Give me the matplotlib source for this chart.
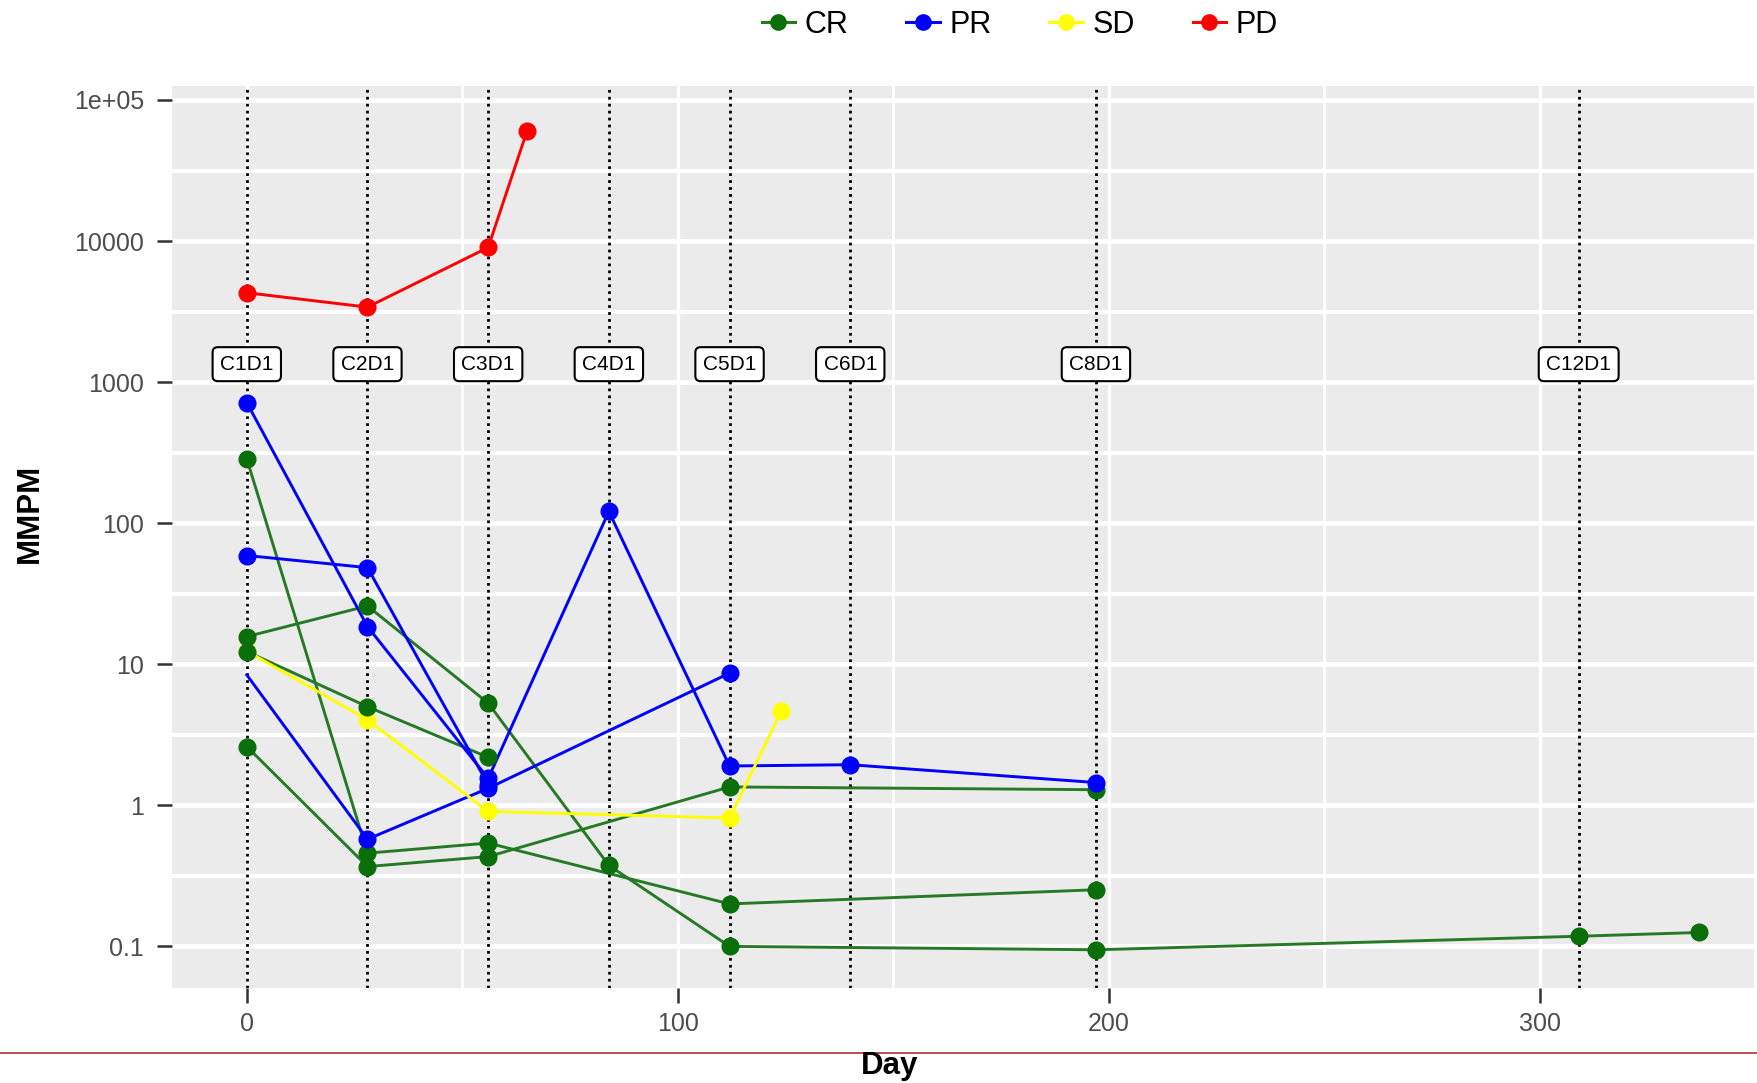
import matplotlib
matplotlib.use("Agg")
import matplotlib.pyplot as plt
from matplotlib.lines import Line2D

plt.rcParams['font.family'] = ['Liberation Sans', 'DejaVu Sans']

# treatment cycle start days and labels
cycle_days = [0, 28, 56, 84, 112, 140, 197, 309]
cycle_labels = ['C1D1', 'C2D1', 'C3D1', 'C4D1', 'C5D1', 'C6D1', 'C8D1', 'C12D1']
label_y = 1340

# CR patients
cr1_day = [0, 28, 56, 84, 112, 197, 309, 337]
cr1 = [15.7, 25.9, 5.3, 0.375, 0.100, 0.0946, 0.118, 0.1255]
cr2_day = [0, 28, 56]
cr2 = [12.3, 5.0, 2.19]
cr3_day = [0, 28, 56, 112, 197]
cr3 = [286, 0.458, 0.54, 0.200, 0.252]
cr4_day = [0, 28, 56, 112, 197]
cr4 = [2.61, 0.368, 0.433, 1.35, 1.29]

# PR patients
pr1_day = [0, 28, 56, 84, 112, 140, 197]
pr1 = [716, 18.5, 1.55, 121, 1.90, 1.94, 1.45]
pr2_day = [0, 28, 56]
pr2 = [59, 48.4, 1.40]
pr3_day = [0, 28, 56, 112]
pr3 = [8.4, 0.575, 1.32, 8.65]

# SD patient
sd_day = [0, 28, 56, 112, 124]
sd = [12.4, 4.04, 0.905, 0.813, 4.63]

# PD patient
pd_day = [0, 28, 56, 65]
pd = [4300, 3400, 9000, 60000]

groups = ['CR', 'PR', 'SD', 'PD']
line_col = {'CR': '#267a26', 'PR': '#0000ff', 'SD': '#ffff00', 'PD': '#ff0000'}
pt_col = {'CR': '#0a6e0a', 'PR': '#0000ff', 'SD': '#ffff00', 'PD': '#ff0000'}

series = [
    ('CR', cr1_day, cr1), ('CR', cr2_day, cr2), ('CR', cr3_day, cr3), ('CR', cr4_day, cr4),
    ('PR', pr1_day, pr1), ('PR', pr2_day, pr2), ('PR', pr3_day, pr3),
    ('SD', sd_day, sd),
    ('PD', pd_day, pd),
]
point_order = ['SD', 'CR', 'PR', 'PD']

fig = plt.figure(figsize=(17.58, 10.83), dpi=100)
ax = fig.add_axes([172 / 1758, 1 - 988 / 1083, 1 - 172 / 1758, (988 - 86) / 1083])
ax.set_facecolor('#ebebeb')
ax.set_yscale('log')
ax.set_xlim(-17.35, 350.6)
ax.set_ylim(10 ** -1.295, 10 ** 5.099)

# grid
for v in [-1, 0, 1, 2, 3, 4, 5]:
    ax.axhline(10.0 ** v, color='white', lw=3.4, zorder=0.5)
for v in [-0.5, 0.5, 1.5, 2.5, 3.5, 4.5]:
    ax.axhline(10.0 ** v, color='white', lw=3.0, zorder=0.5)
for v in [0, 100, 200, 300]:
    ax.axvline(v, color='white', lw=2.4, zorder=0.5)
for v in [50, 150, 250, 350]:
    ax.axvline(v, color='white', lw=2.0, zorder=0.5)

# cycle markers
for d, lab in zip(cycle_days, cycle_labels):
    ax.axvline(d, color='black', lw=2.0, ls=(0, (1, 1.5)), zorder=1)
    ax.text(d, label_y, lab, ha='center', va='center', fontsize=15, zorder=6,
            bbox=dict(boxstyle='round,pad=0.36,rounding_size=0.25', fc='white', ec='black', lw=1.5))

for g, x, y in series:
    ax.plot(x, y, color=line_col[g], lw=2.1, zorder=2)
for grp in point_order:
    for g, x, y in series:
        if g != grp:
            continue
        start = 1 if y is pr3 else 0
        ax.plot(x[start:], y[start:], ls='none', marker='o', ms=12,
                color=pt_col[g], mec=pt_col[g], zorder=3)

ax.set_yticks([0.1, 1, 10, 100, 1000, 10000, 100000])
ax.set_yticklabels(['0.1', '1', '10', '100', '1000', '10000', '1e+05'])
ax.minorticks_off()
ax.set_xticks([0, 100, 200, 300])
ax.set_xticklabels(['0', '100', '200', '300'])
ax.tick_params(axis='both', labelsize=18, labelcolor='#4d4d4d', color='#333333',
               length=10.5, width=1.8)
ax.tick_params(axis='y', pad=9.5)
ax.tick_params(axis='x', pad=7)
for s in ax.spines.values():
    s.set_visible(False)

fig.text(30 / 1758, 1 - 513 / 1083, 'MMPM', rotation=90, ha='center', va='center',
         fontsize=22.5, fontweight='bold')
fig.text(0.506, 1 - 1066 / 1083, 'Day', ha='center', va='center',
         fontsize=22.5, fontweight='bold')

handles = [Line2D([0], [0], color=line_col[g], lw=2.2, marker='o', ms=11,
                  mfc=pt_col[g], mec=pt_col[g]) for g in groups]
fig.legend(handles, groups, loc='center', bbox_to_anchor=(0.58, 1 - 25 / 1083), ncol=4,
           frameon=False, fontsize=22, handlelength=1.1, handletextpad=0.3,
           columnspacing=1.9)

fig.add_artist(Line2D([0, 1], [1 - 1053 / 1083] * 2, color='#b03030', lw=1.2))

fig.savefig('out.png', dpi=100)
